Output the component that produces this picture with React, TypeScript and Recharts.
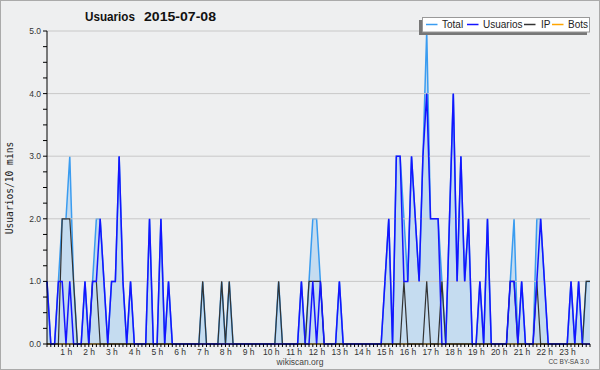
import { ComposedChart, Area, Line, XAxis, YAxis, ReferenceLine } from "recharts";

// 10-minute slots, 0:00 .. 23:50
const total = [
  1, 0, 0, 1, 2, 2, 3, 1, 0, 0,
  1, 0, 1, 2, 2, 1, 0, 1, 1, 3,
  1, 0, 1, 0, 0, 0, 0, 2, 0, 0,
  2, 0, 1, 0, 0, 0, 0, 0, 0, 0,
  0, 1, 0, 0, 0, 0, 1, 0, 1, 0,
  0, 0, 0, 0, 0, 0, 0, 0, 0, 0,
  0, 1, 0, 0, 0, 0, 0, 1, 0, 1,
  2, 2, 1, 0, 0, 0, 0, 1, 0, 0,
  0, 0, 0, 0, 0, 0, 0, 0, 0, 1,
  2, 0, 3, 3, 2, 1, 3, 2, 1, 3,
  5, 2, 2, 2, 1, 0, 2, 4, 1, 3,
  1, 2, 0, 0, 1, 0, 2, 0, 0, 0,
  0, 0, 1, 2, 0, 1, 0, 0, 0, 2,
  2, 1, 0, 0, 0, 0, 0, 0, 1, 0,
  1, 0, 1, 1,
];

const usuarios = [
  1, 0, 0, 1, 1, 0, 1, 0, 0, 0,
  1, 0, 1, 1, 2, 1, 0, 1, 1, 3,
  1, 0, 1, 0, 0, 0, 0, 2, 0, 0,
  2, 0, 1, 0, 0, 0, 0, 0, 0, 0,
  0, 0, 0, 0, 0, 0, 0, 0, 0, 0,
  0, 0, 0, 0, 0, 0, 0, 0, 0, 0,
  0, 0, 0, 0, 0, 0, 0, 1, 0, 0,
  1, 0, 1, 0, 0, 0, 0, 1, 0, 0,
  0, 0, 0, 0, 0, 0, 0, 0, 0, 1,
  2, 0, 3, 3, 1, 1, 3, 2, 1, 3,
  4, 2, 2, 2, 0, 0, 2, 4, 1, 3,
  1, 2, 0, 0, 1, 0, 2, 0, 0, 0,
  0, 0, 1, 1, 0, 1, 0, 0, 0, 1,
  2, 1, 0, 0, 0, 0, 0, 0, 1, 0,
  1, 0, 0, 0,
];

const ip = [
  0, 0, 0, 0, 2, 2, 2, 1, 0, 0,
  0, 0, 1, 1, 0, 0, 0, 0, 0, 0,
  0, 0, 0, 0, 0, 0, 0, 0, 0, 0,
  0, 0, 0, 0, 0, 0, 0, 0, 0, 0,
  0, 1, 0, 0, 0, 0, 1, 0, 1, 0,
  0, 0, 0, 0, 0, 0, 0, 0, 0, 0,
  0, 1, 0, 0, 0, 0, 0, 0, 0, 1,
  1, 1, 1, 0, 0, 0, 0, 0, 0, 0,
  0, 0, 0, 0, 0, 0, 0, 0, 0, 0,
  0, 0, 0, 0, 1, 0, 0, 0, 0, 0,
  1, 0, 0, 0, 1, 0, 0, 0, 0, 0,
  0, 0, 0, 0, 0, 0, 0, 0, 0, 0,
  0, 0, 1, 1, 0, 0, 0, 0, 0, 1,
  0, 0, 0, 0, 0, 0, 0, 0, 0, 0,
  0, 0, 1, 1,
];

const bots = [
  0, 0, 0, 0, 0, 0, 0, 0, 0, 0,
  0, 0, 0, 0, 0, 0, 0, 0, 0, 0,
  0, 0, 0, 0, 0, 0, 0, 0, 0, 0,
  0, 0, 0, 0, 0, 0, 0, 0, 0, 0,
  0, 0, 0, 0, 0, 0, 0, 0, 0, 0,
  0, 0, 0, 0, 0, 0, 0, 0, 0, 0,
  0, 0, 0, 0, 0, 0, 0, 0, 0, 0,
  0, 0, 0, 0, 0, 0, 0, 0, 0, 0,
  0, 0, 0, 0, 0, 0, 0, 0, 0, 0,
  0, 0, 0, 0, 0, 0, 0, 0, 0, 0,
  0, 0, 0, 0, 0, 0, 0, 0, 0, 0,
  0, 0, 0, 0, 0, 0, 0, 0, 0, 0,
  0, 0, 0, 0, 0, 0, 0, 0, 0, 0,
  0, 0, 0, 0, 0, 0, 0, 0, 0, 0,
  0, 0, 0, 0,
];

const hourLabels = [
  "1 h", "2 h", "3 h", "4 h", "5 h", "6 h", "7 h", "8 h", "9 h", "10 h", "11 h", "12 h",
  "13 h", "14 h", "15 h", "16 h", "17 h", "18 h", "19 h", "20 h", "21 h", "22 h", "23 h",
];

const yTicks = [
  0, 0.25, 0.5, 0.75, 1, 1.25, 1.5, 1.75, 2, 2.25, 2.5, 2.75,
  3, 3.25, 3.5, 3.75, 4, 4.25, 4.5, 4.75, 5,
];
const yLabels = ["0.0", "1.0", "2.0", "3.0", "4.0", "5.0"];
const gridValues = [1, 2, 3, 4, 5];

const SERIES = [
  { key: "total", name: "Total", color: "#3a9cf0" },
  { key: "usuarios", name: "Usuarios", color: "#1414ff" },
  { key: "ip", name: "IP", color: "#333333" },
  { key: "bots", name: "Bots", color: "#ffa500" },
];

const data = total.map((t, i) => ({
  i,
  total: t,
  usuarios: usuarios[i],
  ip: ip[i],
  bots: bots[i],
}));
const xTicks = data.map((d) => d.i);

const BG = "#eeeff0";
const FONT = "'Liberation Sans', Arial, sans-serif";

const XTick = (props: any) => {
  const { x, y, payload } = props;
  const v = payload.value;
  const label = v > 0 && v % 6 === 0 ? hourLabels[v / 6 - 1] : null;
  return (
    <g>
      <line x1={x} x2={x} y1={y} y2={y + 3} stroke="#000" strokeWidth={1} />
      {label && (
        <text x={x - 3.5} y={y + 10.5} textAnchor="middle" fontSize={8.5} fontFamily={FONT} fill="#333">
          {label}
        </text>
      )}
    </g>
  );
};

const YTick = (props: any) => {
  const { x, y, payload } = props;
  const v = payload.value;
  const label = Number.isInteger(v) ? yLabels[v] : null;
  return (
    <g>
      <line x1={x - 4} x2={x} y1={y} y2={y} stroke="#000" strokeWidth={1} />
      {label && (
        <text x={x - 6} y={y + 3} textAnchor="end" fontSize={8.5} fontFamily={FONT} fill="#333">
          {label}
        </text>
      )}
    </g>
  );
};

const LegendBox = () => {
  const xs = [
    { line: 426, text: 442 },
    { line: 467, text: 483 },
    { line: 524, text: 541 },
    { line: 552, text: 568 },
  ];
  return (
    <svg width={600} height={40} style={{ position: "absolute", left: 0, top: 0 }}>
      <rect x={419} y={20} width={168} height={15} fill="#777" />
      <rect x={422.5} y={17.5} width={167} height={14.5} fill="#fff" stroke="#999" />
      {SERIES.map((s, k) => (
        <g key={s.key}>
          <line x1={xs[k].line} x2={xs[k].line + 11.5} y1={24.5} y2={24.5} stroke={s.color} strokeWidth={1.5} />
          <text x={xs[k].text} y={28.3} fontSize={10} fontFamily={FONT} fill="#222">
            {s.name}
          </text>
        </g>
      ))}
    </svg>
  );
};

export default function App() {
  return (
    <div style={{ position: "absolute", left: 0, top: 0, width: 600, height: 370, background: BG }}>
      <ComposedChart
        width={600}
        height={370}
        data={data}
        margin={{ top: 31, right: 10, bottom: 0, left: 0 }}
      >
        {gridValues.map((g) => (
          <ReferenceLine key={g} y={g} stroke="#c8c8c8" strokeWidth={1} />
        ))}
        <Area
          dataKey="total"
          name="Total"
          type="linear"
          stroke="#3a9cf0"
          strokeWidth={1.5}
          fill="#c5dcf0"
          fillOpacity={1}
          dot={false}
          isAnimationActive={false}
        />
        <Line dataKey="bots" name="Bots" type="linear" stroke="#ffa500" strokeWidth={1} dot={false} isAnimationActive={false} />
        <Line dataKey="ip" name="IP" type="linear" stroke="#333" strokeWidth={1.2} dot={false} isAnimationActive={false} />
        <Line dataKey="usuarios" name="Usuarios" type="linear" stroke="#1414ff" strokeWidth={1.5} dot={false} isAnimationActive={false} />
        <XAxis
          dataKey="i"
          type="number"
          domain={[0, 143]}
          ticks={xTicks}
          interval={0}
          height={26}
          tickSize={0}
          tickMargin={0}
          tickLine={false}
          axisLine={{ stroke: "#000" }}
          tick={<XTick />}
        />
        <YAxis
          type="number"
          domain={[0, 5]}
          ticks={yTicks}
          interval={0}
          width={47}
          tickSize={0}
          tickMargin={0}
          tickLine={false}
          axisLine={{ stroke: "#000" }}
          tick={<YTick />}
        />
      </ComposedChart>
      <svg width={600} height={370} style={{ position: "absolute", left: 0, top: 0, pointerEvents: "none" }}>
        <rect x={0.5} y={0.5} width={599} height={369} fill="none" stroke="#aaa" />
        <text x={85} y={20.7} fontSize={12.5} fontWeight="bold" fontFamily={FONT} fill="#111" textLength={50} lengthAdjust="spacingAndGlyphs">
          Usuarios
        </text>
        <text x={144} y={20.7} fontSize={12.5} fontWeight="bold" fontFamily={FONT} fill="#111" textLength={72} lengthAdjust="spacingAndGlyphs">
          2015-07-08
        </text>
        <text
          x={13}
          y={188}
          transform="rotate(-90, 13, 188)"
          textAnchor="middle"
          fontSize={9.6}
          fontFamily="'DejaVu Sans Mono', monospace"
          fill="#222"
        >
          Usuarios/10 mins
        </text>
        <text x={300} y={365} textAnchor="middle" fontSize={8.5} fontFamily={FONT} fill="#444">
          wikiscan.org
        </text>
        <text x={589} y={364} textAnchor="end" fontSize={6.5} fontFamily={FONT} fill="#444">
          CC BY-SA 3.0
        </text>
      </svg>
      <LegendBox />
    </div>
  );
}
